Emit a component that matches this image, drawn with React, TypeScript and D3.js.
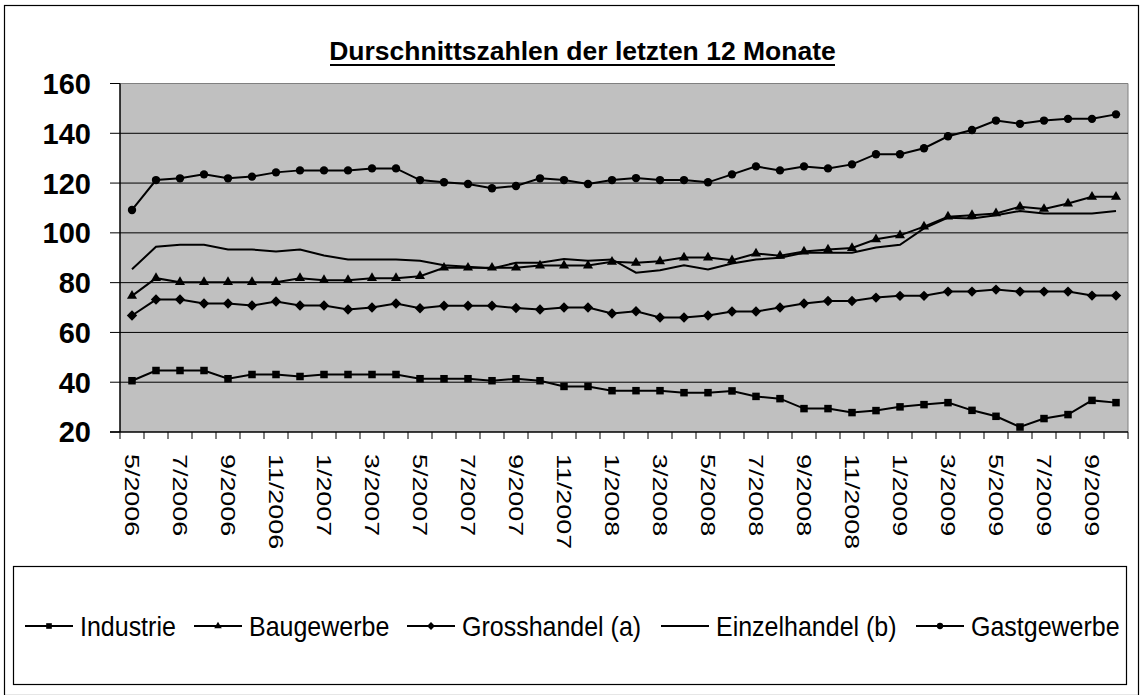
import React from "react";
import * as d3 from "d3";

const months = [
  "5/2006", "6/2006", "7/2006", "8/2006", "9/2006", "10/2006", "11/2006", "12/2006",
  "1/2007", "2/2007", "3/2007", "4/2007", "5/2007", "6/2007", "7/2007", "8/2007",
  "9/2007", "10/2007", "11/2007", "12/2007", "1/2008", "2/2008", "3/2008", "4/2008",
  "5/2008", "6/2008", "7/2008", "8/2008", "9/2008", "10/2008", "11/2008", "12/2008",
  "1/2009", "2/2009", "3/2009", "4/2009", "5/2009", "6/2009", "7/2009", "8/2009",
  "9/2009", "10/2009",
];

const industrie = [
  40.6, 44.7, 44.7, 44.7, 41.4, 43.1, 43.1, 42.3, 43.1, 43.1, 43.1, 43.1,
  41.4, 41.4, 41.4, 40.6, 41.4, 40.6, 38.3, 38.3, 36.6, 36.6, 36.6,
  35.8, 35.8, 36.5, 34.3, 33.4, 29.4, 29.4, 27.8, 28.6, 30.1, 31.0, 31.8,
  28.7, 26.3, 22.0, 25.4, 27.0, 32.7, 31.8,
];
const baugewerbe = [
  74.7, 81.8, 80.2, 80.2, 80.2, 80.2, 80.2, 81.8, 81.0, 81.0, 81.8, 81.8,
  82.6, 86.0, 86.0, 86.0, 86.0, 86.9, 86.9, 86.9, 88.4, 88.0, 88.6,
  90.1, 90.1, 89.0, 91.7, 90.8, 92.5, 93.3, 93.9, 97.4, 99.0, 102.5, 106.5,
  107.1, 107.8, 110.5, 109.6, 111.8, 114.5, 114.5,
];
const grosshandel = [
  66.8, 73.2, 73.2, 71.6, 71.6, 70.8, 72.4, 70.8, 70.8, 69.2, 70.0, 71.6,
  69.7, 70.7, 70.7, 70.7, 69.8, 69.2, 70.0, 70.0, 67.6, 68.5, 66.0,
  66.0, 66.8, 68.4, 68.4, 70.0, 71.6, 72.6, 72.6, 74.0, 74.7, 74.7, 76.4,
  76.4, 77.2, 76.4, 76.4, 76.4, 74.8, 74.8,
];
const einzelhandel = [
  85.4, 94.4, 95.2, 95.2, 93.3, 93.3, 92.5, 93.3, 90.9, 89.3, 89.3, 89.3,
  88.8, 87.0, 86.4, 85.7, 88.0, 88.0, 89.5, 88.8, 89.3, 84.0, 85.0,
  87.0, 85.3, 87.7, 89.3, 90.0, 92.0, 92.0, 92.0, 94.1, 95.2, 101.8, 106.1,
  105.8, 107.1, 108.8, 107.8, 107.8, 107.8, 108.8,
];
const gastgewerbe = [
  109.2, 121.2, 121.9, 123.5, 121.9, 122.6, 124.3, 125.1, 125.1, 125.1, 125.9, 125.9,
  121.2, 120.3, 119.6, 117.9, 118.8, 121.9, 121.2, 119.6, 121.2, 122.0, 121.2,
  121.2, 120.3, 123.5, 126.7, 125.1, 126.7, 125.9, 127.5, 131.6, 131.6, 134.0, 138.8,
  141.3, 145.1, 143.8, 145.1, 145.8, 145.8, 147.6,
];

const seriesNames = ["Industrie", "Baugewerbe", "Grosshandel (a)", "Einzelhandel (b)", "Gastgewerbe"];
const seriesMarkers = ["square", "triangle", "diamond", "none", "circle"];
const yTicks = [20, 40, 60, 80, 100, 120, 140, 160];
const title = "Durschnittszahlen der letzten 12 Monate";

const W = 1143;
const H = 695;
const FONT = "'Liberation Sans', Arial, sans-serif";

function Marker({ type, x, y, s = 1 }: { type: string; x: number; y: number; s?: number }) {
  if (type === "square") {
    const a = 7.5 * s;
    return <rect x={x - a / 2} y={y - a / 2} width={a} height={a} fill="#000" />;
  }
  if (type === "triangle") {
    const sym = d3.symbol(d3.symbolTriangle, 44 * s * s)();
    return <path d={sym || ""} transform={`translate(${x},${y})`} fill="#000" />;
  }
  if (type === "diamond") {
    const r = 5.2 * s;
    return <path d={`M${x},${y - r}L${x + r},${y}L${x},${y + r}L${x - r},${y}Z`} fill="#000" />;
  }
  if (type === "circle") {
    return <circle cx={x} cy={y} r={4.2 * s} fill="#000" />;
  }
  return null;
}

export default function App() {
  const left = 120;
  const right = 1128;
  const top = 83.5;
  const bottom = 432;

  const x = d3.scaleBand<string>().domain(months).range([left, right]).padding(0);
  const y = d3.scaleLinear().domain([20, 160]).range([bottom, top]);
  const cx = (m: string) => (x(m) as number) + x.bandwidth() / 2;

  const allSeries = [industrie, baugewerbe, grosshandel, einzelhandel, gastgewerbe];
  const line = d3
    .line<number>()
    .x((_, i) => cx(months[i]))
    .y((v) => y(v));

  const legendX = [25, 194, 407, 661, 916];
  const legendY = 626;

  return (
    <svg
      width={W}
      height={H}
      style={{ position: "absolute", left: 0, top: 0, background: "#fff" }}
      fontFamily={FONT}
    >
      <rect x={0} y={0} width={W} height={H} fill="#fff" />
      <rect x={4.5} y={5.5} width={1134} height={690} fill="none" stroke="#000" strokeWidth={1.2} />

      {/* title */}
      <text x={582.5} y={60} textAnchor="middle" fontSize={26.5} fontWeight="bold" fill="#000">
        {title}
      </text>
      <line x1={330} x2={835} y1={65} y2={65} stroke="#000" strokeWidth={2} />

      {/* plot area */}
      <rect x={left} y={top} width={right - left} height={bottom - top} fill="#C0C0C0" />
      <line x1={left} x2={right} y1={top} y2={top} stroke="#808080" strokeWidth={1} />
      <line x1={right} x2={right} y1={top} y2={bottom} stroke="#808080" strokeWidth={1} />

      {yTicks.map((t) => (
        <g key={t}>
          {t !== 20 && t !== 160 && (
            <line x1={left} x2={right} y1={y(t)} y2={y(t)} stroke="#000" strokeWidth={1} />
          )}
          <line x1={left - 10} x2={left} y1={y(t)} y2={y(t)} stroke="#000" strokeWidth={1} />
          <text
            x={91}
            y={y(t)}
            dy="0.36em"
            textAnchor="end"
            fontSize={29}
            fontWeight="bold"
            fill="#000"
          >
            {t}
          </text>
        </g>
      ))}

      {/* axes */}
      <line x1={left} x2={left} y1={top} y2={bottom} stroke="#000" strokeWidth={1.5} />
      <line x1={left - 10} x2={right} y1={bottom} y2={bottom} stroke="#000" strokeWidth={1.5} />
      {months.map((m) => (
        <line
          key={"tk" + m}
          x1={(x(m) as number) + x.bandwidth()}
          x2={(x(m) as number) + x.bandwidth()}
          y1={bottom}
          y2={bottom + 7}
          stroke="#000"
          strokeWidth={1}
        />
      ))}
      <line x1={left} x2={left} y1={bottom} y2={bottom + 7} stroke="#000" strokeWidth={1} />
      {months.map((m, i) =>
        i % 2 === 0 ? (
          <text
            key={"lb" + m}
            transform={`translate(${cx(m)},${bottom + 22}) rotate(90) scale(1.28,1)`}
            dy="0.35em"
            textAnchor="start"
            fontSize={21}
            fill="#000"
          >
            {m}
          </text>
        ) : null
      )}

      {/* series */}
      {allSeries.map((vals, si) => (
        <g key={"s" + si}>
          <path d={line(vals) || ""} fill="none" stroke="#000" strokeWidth={2} />
          {vals.map((v, i) => (
            <Marker key={i} type={seriesMarkers[si]} x={cx(months[i])} y={y(v)} />
          ))}
        </g>
      ))}

      {/* legend */}
      <rect x={13.5} y={566.5} width={1113} height={118} fill="#fff" stroke="#000" strokeWidth={1.2} />
      {seriesNames.map((name, i) => (
        <g key={name}>
          <line
            x1={legendX[i]}
            x2={legendX[i] + 48}
            y1={legendY}
            y2={legendY}
            stroke="#000"
            strokeWidth={2}
          />
          <Marker type={seriesMarkers[i]} x={legendX[i] + 24} y={legendY} s={0.75} />
          <text
            transform={`translate(${legendX[i] + 55},${legendY}) scale(1,1.1)`}
            dy="0.36em"
            fontSize={25}
            fill="#000"
          >
            {name}
          </text>
        </g>
      ))}
    </svg>
  );
}
